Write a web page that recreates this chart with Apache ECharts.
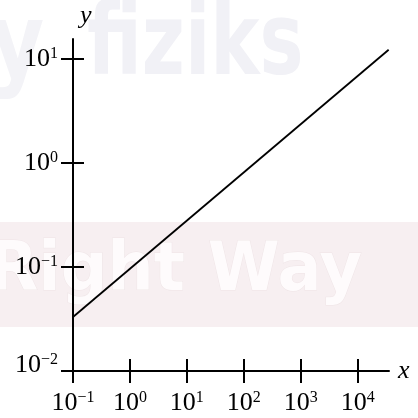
<!DOCTYPE html>
<html>
<head>
<meta charset="utf-8">
<script src="https://cdn.jsdelivr.net/npm/echarts@6/dist/echarts.min.js"></script>
<style>
  html, body { margin: 0; padding: 0; background: #fff; }
  #chart { width: 418px; height: 418px; }
</style>
</head>
<body>
<div id="chart"></div>
<script>
const xValues = [0.1, 35000];
const yValues = [0.033, 12.2];

// decade exponents that carry ticks and labels
const xTickExps = [-1, 0, 1, 2, 3, 4];
const yTickExps = [-2, -1, 0, 1];

// axis ranges in decades
const xRange = [-1, 4.55];
const yRange = [-2, 1.19];

const serif = 'Liberation Serif';

// axes are drawn in log10 units so ticks can sit exactly on decades
const lineData = xValues.map((x, i) => [Math.log10(x), Math.log10(yValues[i])]);

function powText(v) {
    return String(Math.round(v)).replace('-', '\u2212');
}
function xLabel(v) {
    return '{b|10}{s|' + powText(v) + '}';
}
// lowest y label sits a bit above the x axis in the original
function yLabel(v) {
    const txt = '{b|10}{s|' + powText(v) + '}';
    return Math.round(v) === yRange[0] ? txt + '\n{e| }' : txt;
}
const richLabel = {
    b: { fontFamily: serif, fontSize: 26, lineHeight: 26, color: '#000' },
    s: { fontFamily: serif, fontSize: 16, lineHeight: 16, color: '#000', verticalAlign: 'top' },
    e: { fontSize: 2, lineHeight: 12 }
};

const gridBox = { left: 73, right: 29, top: 39, bottom: 47 };
const tickLine = { color: '#000', width: 2 };

var chart = echarts.init(document.getElementById('chart'), null, { renderer: 'canvas' });
var option = {
    backgroundColor: '#fff',
    animation: false,
    // faint watermark in the background
    graphic: [
        {
            type: 'rect', z: -10, silent: true,
            shape: { x: 0, y: 222, width: 418, height: 105 },
            style: { fill: '#f7eff1' }
        },
        {
            type: 'text', z: -9, silent: true, x: -12, y: 272, scaleX: 0.96,
            style: {
                text: 'Right Way', fill: '#fefbfc', stroke: '#efe5e7', lineWidth: 1,
                font: 'bold 68px "DejaVu Sans"', verticalAlign: 'middle'
            }
        },
        {
            type: 'text', z: -9, silent: true, x: -10, y: 50, scaleX: 0.8,
            style: {
                text: 'y', fill: '#f3f3f7',
                font: 'bold 104px "DejaVu Sans"', verticalAlign: 'middle'
            }
        },
        {
            type: 'text', z: -9, silent: true, x: 87, y: 48, scaleX: 0.74,
            style: {
                text: 'fiziks', fill: '#f1f1f6',
                font: 'bold 100px "DejaVu Sans"', verticalAlign: 'middle'
            }
        }
    ],
    grid: [
        Object.assign({}, gridBox),
        Object.assign({}, gridBox)
    ],
    xAxis: [
        {
            type: 'value', gridIndex: 0, min: xRange[0], max: xRange[1],
            name: 'x', nameLocation: 'end', nameGap: 9,
            nameTextStyle: { fontFamily: serif, fontStyle: 'italic', fontSize: 26, color: '#000' },
            axisLine: { show: true, onZero: false, lineStyle: { color: '#000', width: 2 } },
            axisTick: { show: true, inside: false, length: 12, customValues: xTickExps, lineStyle: tickLine },
            axisLabel: {
                show: true, margin: 19, customValues: xTickExps,
                fontFamily: serif, fontSize: 26, color: '#000',
                formatter: xLabel, rich: richLabel
            },
            splitLine: { show: false }
        },
        {
            type: 'value', gridIndex: 1, min: xRange[0], max: xRange[1],
            axisLine: { show: false, onZero: false },
            axisTick: { show: true, inside: true, length: 12, customValues: xTickExps, lineStyle: tickLine },
            axisLabel: { show: false },
            splitLine: { show: false }
        }
    ],
    yAxis: [
        {
            type: 'value', gridIndex: 0, min: yRange[0], max: yRange[1],
            name: 'y', nameLocation: 'end', nameGap: 10,
            nameTextStyle: {
                fontFamily: serif, fontStyle: 'italic', fontSize: 26, color: '#000',
                align: 'left', padding: [0, 0, 0, 7]
            },
            axisLine: { show: true, onZero: false, lineStyle: { color: '#000', width: 2 } },
            axisTick: { show: true, inside: false, length: 12, customValues: yTickExps, lineStyle: tickLine },
            axisLabel: {
                show: true, margin: 15, customValues: yTickExps,
                fontFamily: serif, fontSize: 26, color: '#000',
                formatter: yLabel, rich: richLabel
            },
            splitLine: { show: false }
        },
        {
            type: 'value', gridIndex: 1, min: yRange[0], max: yRange[1],
            axisLine: { show: false, onZero: false },
            axisTick: { show: true, inside: true, length: 11, customValues: yTickExps, lineStyle: tickLine },
            axisLabel: { show: false },
            splitLine: { show: false }
        }
    ],
    series: [
        {
            type: 'line',
            xAxisIndex: 0,
            yAxisIndex: 0,
            data: lineData,
            showSymbol: false,
            lineStyle: { color: '#000', width: 1.8 }
        }
    ]
};
chart.setOption(option);
</script>
</body>
</html>
